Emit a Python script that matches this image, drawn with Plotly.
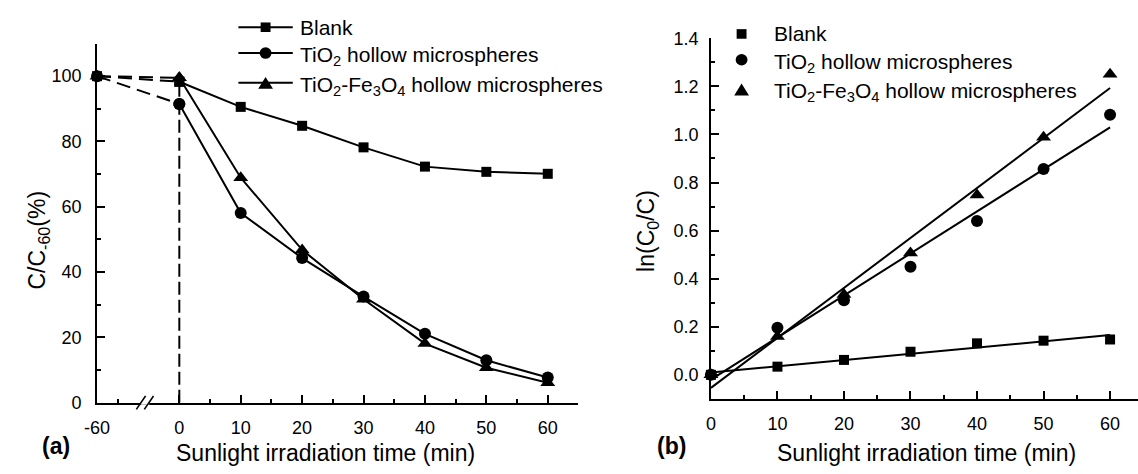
import numpy as np
import plotly.graph_objects as go

# ---------------- data ----------------
time_a = [-60, 0, 10, 20, 30, 40, 50, 60]
blank_a = [100, 98.3, 90.6, 84.8, 78.2, 72.3, 70.7, 70.1]
tio2_a = [100, 91.5, 58.1, 44.3, 32.5, 21.1, 13.0, 7.7]
tife_a = [100, 99.5, 68.9, 46.8, 31.7, 18.1, 10.7, 6.1]

time_b = [0, 10, 20, 30, 40, 50, 60]
blank_b = [0.0, 0.034, 0.062, 0.096, 0.131, 0.142, 0.147]
tio2_b = [0.0, 0.196, 0.31, 0.45, 0.64, 0.856, 1.082]
tife_b = [0.0, 0.159, 0.334, 0.507, 0.748, 0.988, 1.25]

names = ["Blank", "TiO<sub>2</sub> hollow microspheres",
         "TiO<sub>2</sub>-Fe<sub>3</sub>O<sub>4</sub> hollow microspheres"]
symbols = ["square", "circle", "triangle-up"]
msizes = [10, 12, 13]

xticks_a = [-60, 0, 10, 20, 30, 40, 50, 60]
yticks_a = [0, 20, 40, 60, 80, 100]
xticks_b = [0, 10, 20, 30, 40, 50, 60]
yticks_b = [0.0, 0.2, 0.4, 0.6, 0.8, 1.0, 1.2, 1.4]

# broken axis in panel (a): -60 is drawn at a compressed position left of 0
BROKEN_POS = -13.4


def xa(t):
    return t if t >= 0 else BROKEN_POS + (t + 60) * 0.5


W, H = 1138, 474
FONT = "Liberation Sans, Arial, sans-serif"
BLACK = "#000000"


def px(x):
    return x / W


def py(y):
    return 1 - y / H


fig = go.Figure()

# ---- panel (a) ----
for vals, name, sym, ms in zip([blank_a, tio2_a, tife_a], names, symbols, msizes):
    xs = [xa(t) for t in time_a]
    # dashed dark-period segment (-60 -> 0)
    fig.add_trace(go.Scatter(
        x=xs[:2], y=vals[:2], mode="lines+markers",
        line=dict(color=BLACK, width=2, dash="14px,7px"),
        marker=dict(symbol=sym, size=ms, color=BLACK),
        showlegend=False, cliponaxis=False, xaxis="x", yaxis="y"))
    # solid irradiation segment
    fig.add_trace(go.Scatter(
        x=xs[1:], y=vals[1:], mode="lines+markers", name=name,
        line=dict(color=BLACK, width=2),
        marker=dict(symbol=sym, size=ms, color=BLACK),
        showlegend=False, cliponaxis=False, xaxis="x", yaxis="y"))

# ---- panel (b) ----
tb = np.array(time_b, dtype=float)
for vals, name, sym, ms in zip([blank_b, tio2_b, tife_b], names, symbols, msizes):
    k, b0 = np.polyfit(tb, np.array(vals), 1)
    fig.add_trace(go.Scatter(
        x=[tb[0], tb[-1]], y=[b0 + k * tb[0], b0 + k * tb[-1]], mode="lines",
        line=dict(color=BLACK, width=2), showlegend=False,
        xaxis="x2", yaxis="y2", hoverinfo="skip"))
    fig.add_trace(go.Scatter(
        x=time_b, y=vals, mode="markers", name=name,
        marker=dict(symbol=sym, size=ms, color=BLACK),
        showlegend=False, cliponaxis=False, xaxis="x2", yaxis="y2"))

axis_common = dict(showline=True, linecolor=BLACK, linewidth=1.6, showgrid=False,
                   zeroline=False, ticks="inside", ticklen=8, tickwidth=1.6,
                   tickcolor=BLACK, mirror=False,
                   tickfont=dict(family=FONT, size=18, color=BLACK))
minor_common = dict(ticklen=4, tickwidth=1.6, tickcolor=BLACK, ticks="inside")

fig.update_layout(
    width=W, height=H, margin=dict(l=0, r=0, t=0, b=0),
    paper_bgcolor="white", plot_bgcolor="white",
    font=dict(family=FONT, color=BLACK), showlegend=False,
    xaxis=dict(domain=[px(85), px(572)], range=[BROKEN_POS, 65], anchor="y",
               tickmode="array", tickvals=[xa(t) for t in xticks_a],
               ticktext=[str(t) for t in xticks_a], ticklabelstandoff=8,
               minor=dict(tickvals=[-10, 5, 15, 25, 35, 45, 55, 65], **minor_common),
               **axis_common),
    yaxis=dict(domain=[py(410), py(35)], range=[0, 110], anchor="x",
               tickmode="array", tickvals=yticks_a,
               ticktext=[str(v) for v in yticks_a], ticklabelstandoff=10,
               minor=dict(tickvals=[10, 30, 50, 70, 90, 110], **minor_common),
               **axis_common),
    xaxis2=dict(domain=[px(706), 1.0], range=[0, 64.2], anchor="y2",
                tickmode="array", tickvals=xticks_b,
                ticktext=[str(t) for t in xticks_b], ticklabelstandoff=8,
                minor=dict(tickvals=[5, 15, 25, 35, 45, 55], **minor_common),
                **axis_common),
    yaxis2=dict(domain=[py(406), py(29.5)], range=[-0.1, 1.4], anchor="x2",
                tickmode="array", tickvals=yticks_b,
                ticktext=[f"{v:.1f}" for v in yticks_b], ticklabelstandoff=7,
                minor=dict(tickvals=[-0.1, 0.1, 0.3, 0.5, 0.7, 0.9, 1.1, 1.3],
                           **minor_common),
                **axis_common),
)

# dashed vertical line at t = 0 in panel (a)
fig.add_shape(type="line", xref="x", yref="y", x0=0, x1=0, y0=0, y1=99,
              line=dict(color=BLACK, width=2, dash="13px,5px"), layer="below")
# axis break marks "//"
fig.add_shape(type="line", xref="x", yref="paper", x0=-6.3, x1=-4.9,
              y0=py(410), y1=py(410), line=dict(color="white", width=4))
fig.add_shape(type="line", xref="x", yref="paper", x0=-7.0, x1=-5.5,
              y0=py(417), y1=py(403), line=dict(color=BLACK, width=1.6))
fig.add_shape(type="line", xref="x", yref="paper", x0=-5.7, x1=-4.2,
              y0=py(417), y1=py(403), line=dict(color=BLACK, width=1.6))


# ---- legends (drawn in pixel positions) ----
def legend_symbol(sym, cx, cy, size):
    r = size / 2
    if sym == "square":
        fig.add_shape(type="rect", xref="paper", yref="paper",
                      x0=px(cx - r), x1=px(cx + r), y0=py(cy + r), y1=py(cy - r),
                      fillcolor=BLACK, line=dict(width=0))
    elif sym == "circle":
        fig.add_shape(type="circle", xref="paper", yref="paper",
                      x0=px(cx - r), x1=px(cx + r), y0=py(cy + r), y1=py(cy - r),
                      fillcolor=BLACK, line=dict(width=0))
    else:
        h = size * 0.95
        w = size * 1.15
        path = (f"M {px(cx - w / 2)} {py(cy + h / 2)} L {px(cx + w / 2)} {py(cy + h / 2)} "
                f"L {px(cx)} {py(cy - h / 2)} Z")
        fig.add_shape(type="path", xref="paper", yref="paper", path=path,
                      fillcolor=BLACK, line=dict(width=0))


leg_a_rows = [18, 45, 76]
leg_b_rows = [25, 52, 83]
for i, (name, sym, ms) in enumerate(zip(names, symbols, msizes)):
    # panel (a): line + marker + line
    y = leg_a_rows[i]
    fig.add_shape(type="line", xref="paper", yref="paper", x0=px(228), x1=px(283),
                  y0=py(y), y1=py(y), line=dict(color=BLACK, width=2))
    legend_symbol(sym, 255.5, y, ms)
    fig.add_annotation(text=name, x=px(288), y=py(y + (3 if i else 0)), xref="paper",
                       yref="paper", xanchor="left", yanchor="middle", showarrow=False,
                       font=dict(family=FONT, size=21, color=BLACK))
    # panel (b): marker only
    y = leg_b_rows[i]
    legend_symbol(sym, 737, y, ms)
    fig.add_annotation(text=name, x=px(768), y=py(y + (3 if i else 0)), xref="paper",
                       yref="paper", xanchor="left", yanchor="middle", showarrow=False,
                       font=dict(family=FONT, size=21, color=BLACK))

ann = [
    dict(text="<b>(a)</b>", x=px(43), y=py(455), size=23),
    dict(text="<b>(b)</b>", x=px(666), y=py(455), size=23),
    dict(text="Sunlight irradiation time (min)", x=px(316), y=py(462), size=23),
    dict(text="Sunlight irradiation time (min)", x=px(924), y=py(462), size=23),
]
for a in ann:
    fig.add_annotation(text=a["text"], x=a["x"], y=a["y"], xref="paper", yref="paper",
                       xanchor="center", yanchor="middle", showarrow=False,
                       font=dict(family=FONT, size=a["size"], color=BLACK))
fig.add_annotation(text="C/C<sub>-60</sub>(%)", x=px(26), y=py(240), xref="paper",
                   yref="paper", xanchor="center", yanchor="middle", showarrow=False,
                   textangle=-90, font=dict(family=FONT, size=23, color=BLACK))
fig.add_annotation(text="ln(C<sub>0</sub>/C)", x=px(642), y=py(231), xref="paper",
                   yref="paper", xanchor="center", yanchor="middle", showarrow=False,
                   textangle=-90, font=dict(family=FONT, size=23, color=BLACK))

fig.write_html("out.html")
